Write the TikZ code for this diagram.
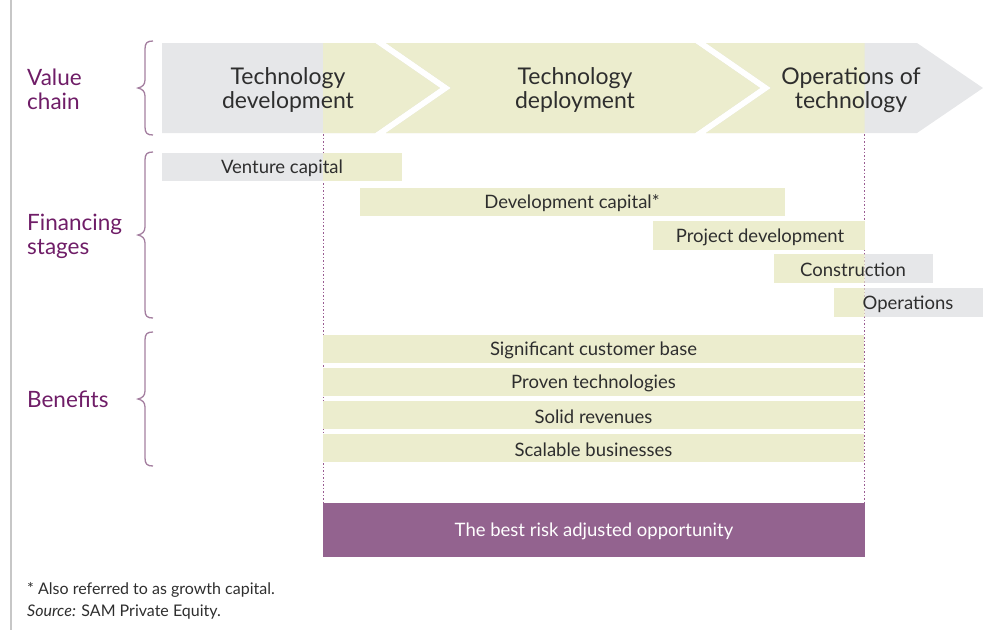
\documentclass[tikz,border=0pt]{standalone}
\usepackage{fontspec}
\setmainfont{Lato}
\definecolor{cgray}{HTML}{E6E7E9}
\definecolor{cbeige}{HTML}{ECEDCE}
\definecolor{cpurple}{HTML}{93638F}
\definecolor{clabel}{HTML}{6F1D67}
\definecolor{cbrace}{HTML}{A47FA0}
\definecolor{cdot}{HTML}{9A5C92}
\definecolor{ctext}{HTML}{2E2E2E}
\begin{document}
\begin{tikzpicture}[x=1pt,y=-1pt,
  chevtxt/.style={font=\fontsize{23}{24}\selectfont, text=ctext, align=center, inner sep=0, yshift=-2pt},
  sidelabel/.style={font=\fontsize{22.5}{24}\selectfont, text=clabel, align=left, anchor=west, inner sep=0, yshift=-1pt},
  bartxt/.style={font=\fontsize{18.5}{20}\selectfont, text=ctext, inner sep=0, yshift=-1.5pt},
  notetxt/.style={font=\fontsize{16}{18}\selectfont, text=ctext, anchor=west, inner sep=0},
  bracepath/.style={draw=cbrace, line width=1.3pt},
  guide/.style={draw=cdot, line width=0.9pt, dash pattern=on 1.5pt off 2pt}
]
\useasboundingbox (0,0) rectangle (990,630);
% left rule
\draw[color=black!22, line width=1.4pt] (11,0) -- (11,630);

% guide lines
\draw[guide] (323,43) -- (323,503);
\draw[guide] (864,43) -- (864,503);

% chevron segments: gray base
\fill[cgray] (162,43) -- (375,43) -- (440,88) -- (375,133) -- (162,133) -- cycle;
\fill[cgray] (386,43) -- (695,43) -- (760,88) -- (695,133) -- (386,133) -- (451,88) -- cycle;
\fill[cgray] (706,43) -- (917,43) -- (983,88) -- (917,133) -- (706,133) -- (771,88) -- cycle;
\begin{scope}
\clip (323,0) rectangle (864.5,630);
\fill[cbeige] (162,43) -- (375,43) -- (440,88) -- (375,133) -- (162,133) -- cycle;
\fill[cbeige] (386,43) -- (695,43) -- (760,88) -- (695,133) -- (386,133) -- (451,88) -- cycle;
\fill[cbeige] (706,43) -- (917,43) -- (983,88) -- (917,133) -- (706,133) -- (771,88) -- cycle;
% financing bars beige parts
\fill[cbeige] (162,153) rectangle (402,181);
\fill[cbeige] (774,254) rectangle (933,283);
\fill[cbeige] (834,288) rectangle (983,317);
\end{scope}
\fill[cgray] (162,153) rectangle (323,181);
\fill[cgray] (864.5,254) rectangle (933,283);
\fill[cgray] (864.5,288) rectangle (983,317);
\fill[cbeige] (360,188) rectangle (785,216);
\fill[cbeige] (653,221) rectangle (864.5,250);

\node[chevtxt] (c1) at (288,88) {Technology\\development};
\node[chevtxt] (c2) at (575,88) {Technology\\deployment};
\node[chevtxt] (c3) at (851,88) {Operations of\\technology};

% financing texts
\node[bartxt] (f1) at (282,167) {Venture capital};
\node[bartxt] (f2) at (572,202) {Development capital*};
\node[bartxt] (f3) at (760,235.5) {Project development};
\node[bartxt] (f4) at (853,268.5) {Construction};
\node[bartxt] (f5) at (908,302.5) {Operations};

% benefits
\fill[cbeige] (323,335) rectangle (864,363);
\fill[cbeige] (323,368) rectangle (864,396);
\fill[cbeige] (323,401) rectangle (864,429);
\fill[cbeige] (323,434) rectangle (864,462);
\node[bartxt] (b1) at (593.5,349) {Significant customer base};
\node[bartxt] (b2) at (593.5,382) {Proven technologies};
\node[bartxt] (b3) at (593.5,415) {Solid revenues};
\node[bartxt] (b4) at (593.5,448) {Scalable businesses};

% result box
\fill[cpurple] (323,503) rectangle (865,557);
\node[bartxt, text=white] (res) at (594,530) {The best risk adjusted opportunity};

% side labels
\node[sidelabel] (l1) at (27,88) {Value\\chain};
\node[sidelabel] (l2) at (27,235) {Financing\\stages};
\node[sidelabel] (l3) at (27,398) {Benefits};

% braces
\draw[bracepath] (153,41) .. controls (147,41) and (145,43) .. (145,49) -- (145,80) .. controls (145,85) and (142,87) .. (138,88) .. controls (142,89) and (145,91) .. (145,96) -- (145,127) .. controls (145,133) and (147,135) .. (153,135);
\draw[bracepath] (153,152) .. controls (147,152) and (145,154) .. (145,160) -- (145,227) .. controls (145,232) and (142,234) .. (138,235) .. controls (142,236) and (145,238) .. (145,243) -- (145,310) .. controls (145,316) and (147,318) .. (153,318);
\draw[bracepath] (153,332) .. controls (147,332) and (145,334) .. (145,340) -- (145,391) .. controls (145,396) and (142,398) .. (138,399) .. controls (142,400) and (145,402) .. (145,407) -- (145,458) .. controls (145,464) and (147,466) .. (153,466);

% footnotes
\node[notetxt] (n1) at (27,590) {* Also referred to as growth capital.};
\node[notetxt] (n2) at (27,612) {\textit{Source:} SAM Private Equity.};
\end{tikzpicture}
\end{document}
